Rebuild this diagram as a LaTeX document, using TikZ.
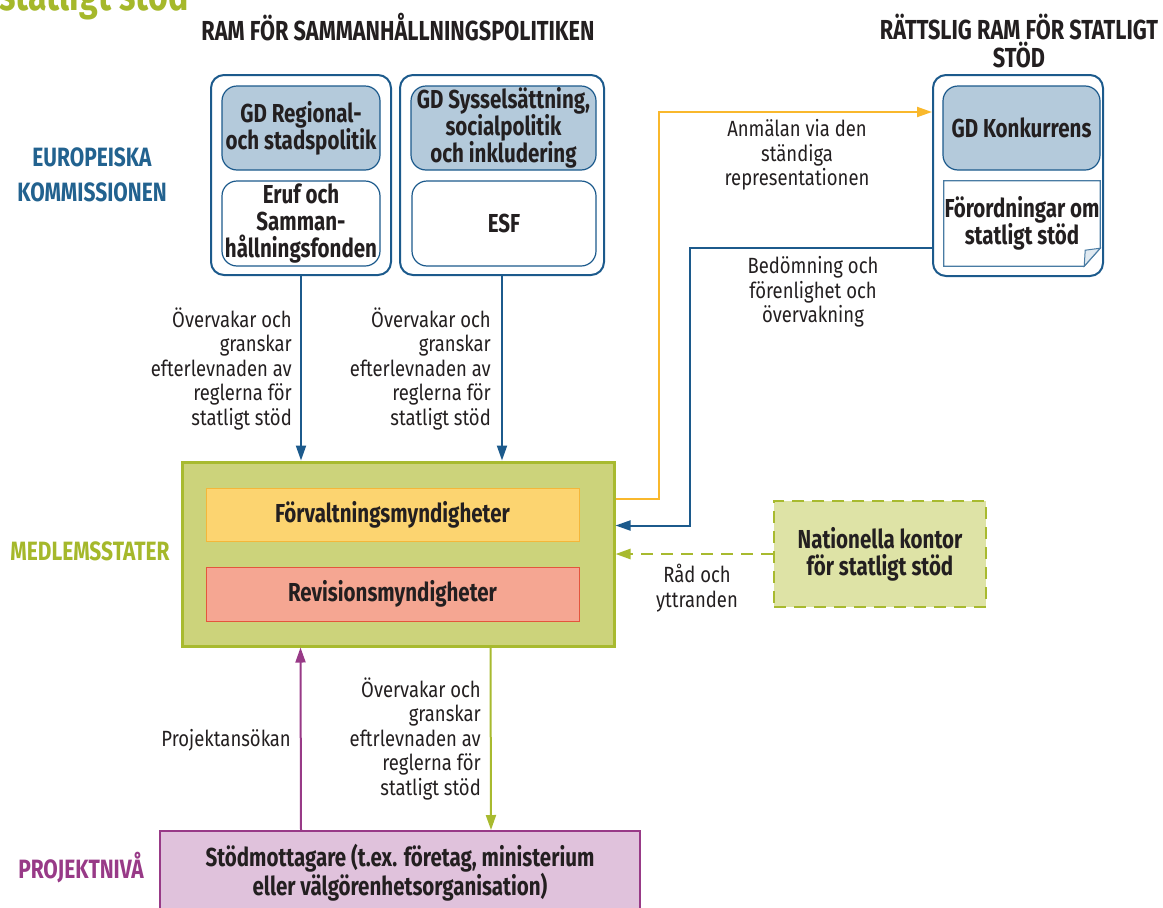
\documentclass[tikz,border=0pt]{standalone}
\usepackage{fontspec}
\setmainfont{Fira Sans}[FakeStretch=0.84,BoldFeatures={FakeStretch=0.79}]
\usetikzlibrary{arrows.meta,calc}
\definecolor{blueC}{HTML}{1C5A8C}
\definecolor{blueT}{HTML}{22628F}
\definecolor{lightblue}{HTML}{B4CADB}
\definecolor{greenT}{HTML}{A5B82B}
\definecolor{mainfill}{HTML}{CCD37B}
\definecolor{mainline}{HTML}{A8BA2F}
\definecolor{yel}{HTML}{F9B82C}
\definecolor{fvfill}{HTML}{FCD470}
\definecolor{fvline}{HTML}{F4B63A}
\definecolor{revfill}{HTML}{F5A692}
\definecolor{revline}{HTML}{E4553D}
\definecolor{natfill}{HTML}{DEE3A6}
\definecolor{purp}{HTML}{983A87}
\definecolor{purpfill}{HTML}{E0C2DC}
\definecolor{txt}{HTML}{231F20}
\begin{document}
\begin{tikzpicture}[x=1pt,y=-1pt,
  every node/.style={text=txt,inner sep=0pt},
  bfont/.style={font=\bfseries\fontsize{26}{27}\selectfont},
  lfont/.style={font=\fontsize{22}{24.5}\selectfont},
  heading/.style={font=\bfseries\fontsize{27.5}{28}\selectfont,align=center},
  sidelabel/.style={font=\bfseries\fontsize{26.5}{35}\selectfont,align=center},
  outerbox/.style={draw=blueC,line width=2pt,rounded corners=13pt,fill=white},
  gdbox/.style={draw=blueC,line width=1.2pt,rounded corners=15pt,fill=lightblue,bfont,align=center},
  fundbox/.style={draw=blueC,line width=1.2pt,rounded corners=15pt,fill=white,bfont,align=center},
  lab/.style={lfont,align=right,anchor=east},
  labc/.style={lfont,align=center},
  conn/.style={line width=2pt,-{Triangle[length=15pt,width=10pt]}},
]
\useasboundingbox (0,0) rectangle (1163,908);

% titles
\node[font=\bfseries\fontsize{43}{43}\selectfont,text=greenT,anchor=base west] (title) at (-1,10) {statligt stöd};
\node[heading] (h1) at (398,27) {RAM FÖR SAMMANHÅLLNINGSPOLITIKEN};
\node[heading] (h2) at (1019,41) {RÄTTSLIG RAM FÖR STATLIGT\\STÖD};

% side labels
\node[sidelabel,text=blueT] (ek) at (92,175) {EUROPEISKA\\KOMMISSIONEN};
\node[sidelabel,text=greenT] (ms) at (90,551) {MEDLEMSSTATER};
\node[sidelabel,text=purp] (pn) at (81,868) {PROJEKTNIVÅ};

% commission boxes
\node[outerbox,minimum width=180,minimum height=200] (box1) at (301,175) {};
\node[outerbox,minimum width=204,minimum height=200] (box2) at (502,175) {};
\node[outerbox,minimum width=170,minimum height=201] (box3) at (1018,175.5) {};

\node[gdbox,minimum width=158,minimum height=84] (gdreg) at (301,128) {GD Regional-\\och stadspolitik};
\node[fundbox,minimum width=158,minimum height=85] (eruf) at (301,223.5) {Eruf och\\Samman-\\hållningsfonden};
\node[gdbox,minimum width=185,minimum height=84] (gdsys) at (503.5,128) {GD Sysselsättning,\\socialpolitik\\och inkludering};
\node[fundbox,minimum width=184,minimum height=85] (esf) at (504,223.5) {ESF};
\node[gdbox,minimum width=157,minimum height=84] (gdkon) at (1021.5,128) {GD Konkurrens};
\node[bfont,align=center,minimum width=156,minimum height=85] (ford) at (1022,223.5) {Förordningar om\\statligt stöd};
\draw[blueC!80,line width=1.2pt,fill=white] (ford.north west) -- (ford.north east) -- ($(ford.south east)+(0,-18)$) -- ($(ford.south east)+(-16,0)$) -- (ford.south west) -- cycle;
\draw[blueC!80,line width=1pt,fill=lightblue!40] ($(ford.south east)+(-16,0)$) -- ($(ford.south east)+(-15,-16)$) -- ($(ford.south east)+(0,-18)$) -- cycle;
\node[bfont,align=center] at (ford.center) {Förordningar om\\statligt stöd};

% member states
\node[draw=mainline,line width=3pt,fill=mainfill,minimum width=432,minimum height=184] (main) at (398,554) {};
\node[draw=fvline,line width=1pt,fill=fvfill,minimum width=373,minimum height=53,bfont] (fv) at (392.5,514.5) {Förvaltningsmyndigheter};
\node[draw=revline,line width=1pt,fill=revfill,minimum width=373,minimum height=54,bfont] (rev) at (392.5,594) {Revisionsmyndigheter};
\node[draw=mainline,line width=2.5pt,dash pattern=on 12pt off 8pt,fill=natfill,minimum width=212,minimum height=106,bfont,align=center] (nat) at (880,554) {Nationella kontor\\för statligt stöd};

% project level
\node[draw=purp,line width=2pt,fill=purpfill,minimum width=480,minimum height=84,bfont,align=center] (stod) at (400,873) {Stödmottagare (t.ex. företag, ministerium\\eller välgörenhetsorganisation)};

% connectors
\draw[conn,blueC] (box1.south) -- (box1.south |- main.north);
\draw[conn,blueC] (box2.south) -- (box2.south |- main.north);
\draw[conn,yel] ($(main.north east)+(0,38)$) -- ++(43,0) |- ($(box3.north west)+(0,38)$);
\draw[conn,blueC] ($(box3.south west)+(0,-29)$) -| ($(main.north east)+(74,65)$) -- ($(main.north east)+(0,65)$);
\draw[conn,mainline,line width=2.5pt,dash pattern=on 12pt off 8pt] (nat.west) -- (nat.west -| main.east);
\draw[conn,purp] ($(stod.north west)+(142,0)$) -- ($(main.south west)+(120,0)$);
\draw[conn,mainline] ($(main.south west)+(310,0)$) -- ($(stod.north west)+(332,0)$);

% labels
\node[lab] (l1) at (292,369) {Övervakar och\\granskar\\efterlevnaden av\\reglerna för\\statligt stöd};
\node[lab] (l2) at (491,369) {Övervakar och\\granskar\\efterlevnaden av\\reglerna för\\statligt stöd};
\node[labc] (l3) at (797,155) {Anmälan via den\\ständiga\\representationen};
\node[labc] (l4) at (813,292) {Bedömning och\\förenlighet och\\övervakning};
\node[labc] (l5) at (697,588) {Råd och\\yttranden};
\node[lab] (l6) at (291,740) {Projektansökan};
\node[lab] (l7) at (481,739) {Övervakar och\\granskar\\eftrlevnaden av\\reglerna för\\statligt stöd};
\end{tikzpicture}
\end{document}
